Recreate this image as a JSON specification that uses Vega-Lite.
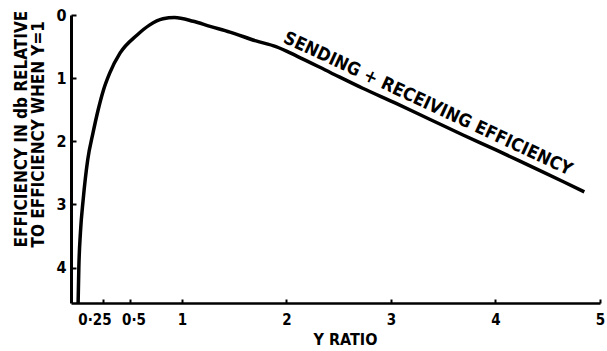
{
  "$schema": "https://vega.github.io/schema/vega-lite/v6.json",
  "autosize": {"type": "none"},
  "padding": {"left": 71, "top": 15, "right": 7, "bottom": 48},
  "width": 529,
  "height": 288,
  "background": "white",
  "config": {
    "view": {"stroke": null},
    "font": "DejaVu Sans Condensed, sans-serif"
  },
  "datasets": {
    "curve": [
      {"y_ratio": 0.008, "eff": 4.56},
      {"y_ratio": 0.015, "eff": 4.0},
      {"y_ratio": 0.03, "eff": 3.45},
      {"y_ratio": 0.056, "eff": 2.93},
      {"y_ratio": 0.1, "eff": 2.29},
      {"y_ratio": 0.15, "eff": 1.87},
      {"y_ratio": 0.2, "eff": 1.5},
      {"y_ratio": 0.25, "eff": 1.19},
      {"y_ratio": 0.31, "eff": 0.92},
      {"y_ratio": 0.41, "eff": 0.6},
      {"y_ratio": 0.57, "eff": 0.32},
      {"y_ratio": 0.69, "eff": 0.16},
      {"y_ratio": 0.82, "eff": 0.06},
      {"y_ratio": 0.93, "eff": 0.04},
      {"y_ratio": 1.11, "eff": 0.1},
      {"y_ratio": 1.27, "eff": 0.18},
      {"y_ratio": 1.46, "eff": 0.27},
      {"y_ratio": 1.71, "eff": 0.41},
      {"y_ratio": 1.9, "eff": 0.5},
      {"y_ratio": 2.1, "eff": 0.65},
      {"y_ratio": 2.42, "eff": 0.91},
      {"y_ratio": 2.73, "eff": 1.16},
      {"y_ratio": 3.05, "eff": 1.4},
      {"y_ratio": 3.37, "eff": 1.65},
      {"y_ratio": 3.69, "eff": 1.9},
      {"y_ratio": 4.01, "eff": 2.14},
      {"y_ratio": 4.33, "eff": 2.39},
      {"y_ratio": 4.65, "eff": 2.64},
      {"y_ratio": 4.85, "eff": 2.8}
    ],
    "label": [
      {"y_ratio": 3.3, "eff": 1.6, "text": "SENDING + RECEIVING EFFICIENCY"}
    ]
  },
  "layer": [
    {
      "data": {"name": "curve"},
      "mark": {"type": "line", "color": "black", "strokeWidth": 3.5, "interpolate": "monotone", "clip": true},
      "encoding": {
        "x": {
          "field": "y_ratio", "type": "quantitative",
          "scale": {"domain": [-0.06, 5], "nice": false, "zero": false},
          "axis": {
            "title": "Y RATIO",
            "values": [0.25, 0.5, 1, 2, 3, 4, 5],
            "labelExpr": "datum.value == 0.25 ? '0·25' : datum.value == 0.5 ? '0·5' : format(datum.value, 'd')",
            "labelOverlap": false,
            "labelFlush": false,
            "labelOffset": {"condition": [{"test": "datum.value == 0.25", "value": -9}, {"test": "datum.value == 0.5", "value": 4}], "value": 0},
            "grid": false,
            "domainColor": "black",
            "domainWidth": 2.5,
            "tickColor": "black",
            "tickWidth": 2,
            "tickSize": -4,
            "labelPadding": 13,
            "labelFontSize": 15,
            "labelFontWeight": "bold",
            "labelColor": "black",
            "titleFontSize": 16,
            "titleFontWeight": "bold",
            "titleColor": "black",
            "titlePadding": 4,
            "titleX": 274,
            "titleAnchor": "middle"
          }
        },
        "y": {
          "field": "eff", "type": "quantitative",
          "scale": {"domain": [0, 4.56], "reverse": true, "nice": false, "zero": false},
          "axis": {
            "title": ["EFFICIENCY IN db RELATIVE", "TO EFFICIENCY WHEN Y=1"],
            "values": [0, 1, 2, 3, 4],
            "labelExpr": "format(datum.value, 'd')",
            "grid": false,
            "domainColor": "black",
            "domainWidth": 3,
            "tickColor": "black",
            "tickWidth": 2,
            "tickSize": -5,
            "labelPadding": 10,
            "labelFontSize": 16,
            "labelFontWeight": "bold",
            "labelColor": "black",
            "titleFontSize": 17,
            "titleFontWeight": "bold",
            "titleColor": "black",
            "titleAngle": -90,
            "titleAlign": "left",
            "titleBaseline": "top",
            "titleX": -58,
            "titleY": 232,
            "titleLineHeight": 17
          }
        }
      }
    },
    {
      "data": {"name": "label"},
      "mark": {"type": "text", "angle": 25, "align": "center", "baseline": "bottom", "dy": -4, "fontSize": 18, "fontWeight": "bold", "color": "black"},
      "encoding": {
        "x": {"field": "y_ratio", "type": "quantitative"},
        "y": {"field": "eff", "type": "quantitative"},
        "text": {"field": "text"}
      }
    }
  ]
}
